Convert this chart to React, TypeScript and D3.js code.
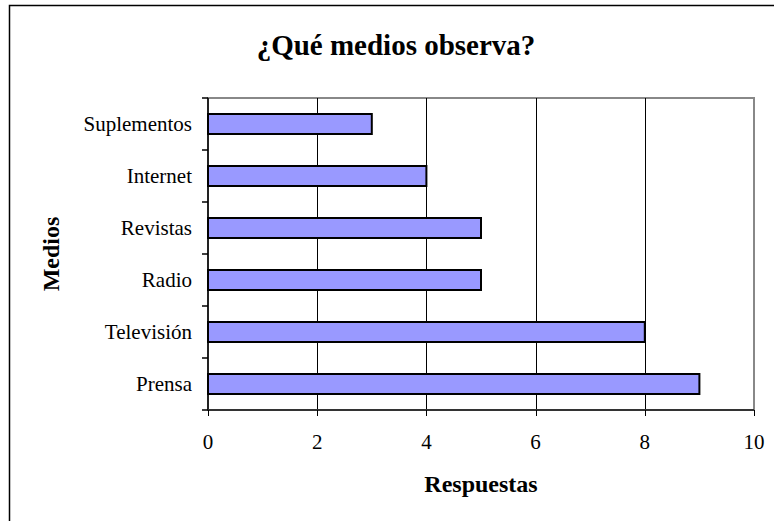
import React, { useEffect, useRef } from "react";
import * as d3 from "d3";

// datos
const medios = ["Suplementos", "Internet", "Revistas", "Radio", "Televisión", "Prensa"];
const respuestas = [3, 4, 5, 5, 8, 9];
const xTicks = [0, 2, 4, 6, 8, 10];

const App = () => {
  const svgRef = useRef<SVGSVGElement>(null);

  useEffect(() => {
    const W = 774;
    const H = 521;
    const plot = { left: 208, right: 754, top: 98, bottom: 410 };
    const font = "'Liberation Serif', 'Times New Roman', serif";

    const root = d3.select(svgRef.current);
    root.selectAll("*").remove();
    const svg = root.attr("width", W).attr("height", H);

    svg.append("rect").attr("width", W).attr("height", H).attr("fill", "#fff");

    // marco exterior (cortado a la derecha y abajo)
    svg
      .append("rect")
      .attr("x", 9.5)
      .attr("y", 5.5)
      .attr("width", 900)
      .attr("height", 700)
      .attr("fill", "none")
      .attr("stroke", "#000")
      .attr("stroke-width", 1.5);

    const xScale = d3.scaleLinear().domain([0, 10]).range([plot.left, plot.right]);
    const yScale = d3.scaleBand().domain(medios).range([plot.top, plot.bottom]);

    // borde del área de trazado
    svg
      .append("rect")
      .attr("x", plot.left)
      .attr("y", plot.top)
      .attr("width", plot.right - plot.left)
      .attr("height", plot.bottom - plot.top)
      .attr("fill", "none")
      .attr("stroke", "#888")
      .attr("stroke-width", 2);

    // líneas de cuadrícula
    svg
      .selectAll(".grid")
      .data(xTicks.filter((t) => t > 0 && t < 10))
      .enter()
      .append("line")
      .attr("x1", (d) => Math.round(xScale(d)) + 0.5)
      .attr("x2", (d) => Math.round(xScale(d)) + 0.5)
      .attr("y1", plot.top)
      .attr("y2", plot.bottom)
      .attr("stroke", "#000")
      .attr("stroke-width", 1);

    // barras
    const barH = 20;
    svg
      .selectAll(".bar")
      .data(medios)
      .enter()
      .append("rect")
      .attr("x", xScale(0))
      .attr("y", (d) => (yScale(d) as number) + yScale.bandwidth() / 2 - barH / 2)
      .attr("width", (d, i) => xScale(respuestas[i]) - xScale(0))
      .attr("height", barH)
      .attr("fill", "#9999FF")
      .attr("stroke", "#000")
      .attr("stroke-width", 2);

    // eje Y
    svg
      .append("line")
      .attr("x1", plot.left)
      .attr("x2", plot.left)
      .attr("y1", plot.top)
      .attr("y2", plot.bottom)
      .attr("stroke", "#000")
      .attr("stroke-width", 1.5);

    const bounds = medios.map((d) => yScale(d) as number).concat([plot.bottom]);
    svg
      .selectAll(".ytick")
      .data(bounds)
      .enter()
      .append("line")
      .attr("x1", plot.left - 6)
      .attr("x2", plot.left)
      .attr("y1", (d) => d)
      .attr("y2", (d) => d)
      .attr("stroke", "#000")
      .attr("stroke-width", 1.5);

    svg
      .selectAll(".ylabel")
      .data(medios)
      .enter()
      .append("text")
      .attr("x", 192)
      .attr("y", (d) => (yScale(d) as number) + yScale.bandwidth() / 2 + 7)
      .attr("text-anchor", "end")
      .attr("font-family", font)
      .attr("font-size", 21)
      .text((d) => d);

    // eje X
    svg
      .append("line")
      .attr("x1", plot.left)
      .attr("x2", plot.right)
      .attr("y1", plot.bottom)
      .attr("y2", plot.bottom)
      .attr("stroke", "#333")
      .attr("stroke-width", 2);

    svg
      .selectAll(".xtick")
      .data(xTicks)
      .enter()
      .append("line")
      .attr("x1", (d) => Math.round(xScale(d)) + 0.5)
      .attr("x2", (d) => Math.round(xScale(d)) + 0.5)
      .attr("y1", plot.bottom)
      .attr("y2", plot.bottom + 6)
      .attr("stroke", "#000")
      .attr("stroke-width", 1);

    svg
      .selectAll(".xlabel")
      .data(xTicks)
      .enter()
      .append("text")
      .attr("x", (d) => xScale(d))
      .attr("y", 449)
      .attr("text-anchor", "middle")
      .attr("font-family", font)
      .attr("font-size", 21)
      .text((d) => d);

    // títulos
    svg
      .append("text")
      .attr("x", 396)
      .attr("y", 55)
      .attr("text-anchor", "middle")
      .attr("font-family", font)
      .attr("font-weight", "bold")
      .attr("font-size", 29)
      .text("¿Qué medios observa?");

    svg
      .append("text")
      .attr("x", 481)
      .attr("y", 492)
      .attr("text-anchor", "middle")
      .attr("font-family", font)
      .attr("font-weight", "bold")
      .attr("font-size", 24)
      .text("Respuestas");

    svg
      .append("text")
      .attr("transform", "translate(59,254) rotate(-90)")
      .attr("text-anchor", "middle")
      .attr("font-family", font)
      .attr("font-weight", "bold")
      .attr("font-size", 24)
      .text("Medios");
  }, []);

  return (
    <svg
      ref={svgRef}
      style={{ position: "absolute", left: 0, top: 0, display: "block" }}
    ></svg>
  );
};

export default App;
